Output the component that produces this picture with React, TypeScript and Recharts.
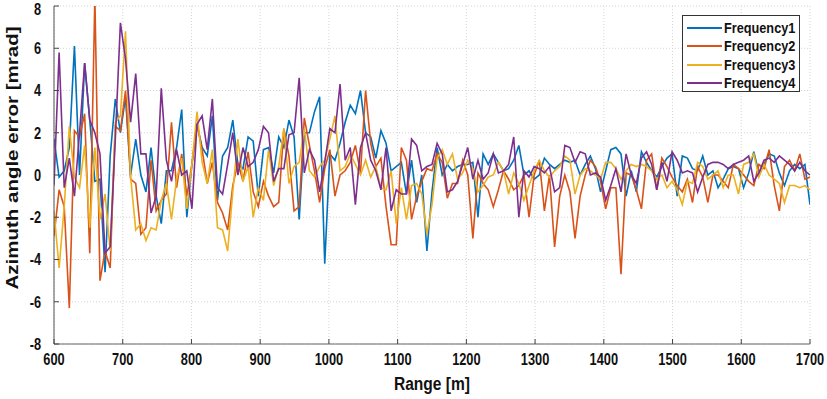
import { LineChart, Line, XAxis, YAxis, CartesianGrid, Legend } from "recharts";

// range axis (m)
const RANGE_START = 600;
const RANGE_END = 1700;

const xTicks = [600, 700, 800, 900, 1000, 1100, 1200, 1300, 1400, 1500, 1600, 1700];
const yTicks = [-8, -6, -4, -2, 0, 2, 4, 6, 8];

// azimuth angle error [mrad]
const freq1 = [
  1.7, -0.1, 0.2, 1.3, 6.1, 0.0, 5.3, 2.6, -0.3, -0.2, -4.6, 0.9, 3.6, 2.0, 3.7, 0.0, 1.7, 0.0, -0.8, 1.3, -1.0, -2.3, 0.2, 0.2, 1.3,
  3.1, -2.0, 0.5, 2.4, 1.3, 0.9, 2.8, -1.2, 0.9, 1.3, 2.6, 0.5, 0.3, 1.8, 1.6, -1.0, 1.2, 1.3, 0.1, 1.8, 1.3, 2.6, 1.8, -2.1, 2.0,
  2.0, 3.0, 3.7, -4.2, 1.0, 0.7, 1.5, 2.5, 3.3, 2.9, 4.0, 2.0, 1.8, 0.8, 2.1, 1.5, 0.2, 0.4, 0.6, -0.9, 0.7, -1.3, 0.0, -3.6,
  -0.8, 1.3, 0.0, 0.5, 0.2, 0.4, 0.5, 0.5, 0.6, -2.0, 1.0, 0.5, 1.0, 0.6, 0.2, 0.3, 0.7, 1.4, 0.0, 0.2, -0.2, 0.0, 0.8, 0.5, 0.3,
  0.5, 0.7, 0.6, 0.7, 0.0, 0.5, 0.9, 0.3, -0.8, 0.2, 1.2, 1.3, 1.0, -1.0, 0.2, -0.8, 1.1, 0.6, 0.2, -0.1, 0.4, 0.8, 1.0, -1.0,
  0.9, 0.8, 0.3, 0.2, 0.9, 0.0, 0.2, -0.6, -0.2, 0.3, 0.4, 0.3, -0.6, 0.1, 1.1, 0.1, 0.5, 1.0, 0.9, 0.1, -0.5, 0.2, 0.5, 0.3, 0.5, -1.4,
];

const freq2 = [
  -2.9, -0.7, -1.5, -6.3, 2.1, 1.8, 2.9, -3.7, 8.4, -5.0, -3.6, -4.4, 2.3, 2.1, 4.0, -0.2, -0.4, -2.8, -2.5, 0.7, -1.7, -1.2, -0.9, 2.5, -0.6,
  1.0, -1.0, 0.5, 2.4, 1.2, -0.4, 0.6, -1.3, -1.8, -2.6, -0.5, 0.6, -0.3, 1.1, -0.8, -1.5, -0.3, -1.0, -1.5, -1.3, 2.2, 0.9, -1.7, -1.5, 2.7,
  1.4, 0.2, -1.3, 0.3, 1.2, -1.0, 0.0, 0.2, 0.6, 1.4, 0.1, 4.0, 1.5, 0.4, 0.8, -1.5, -3.3, -3.3, 1.3, 0.7, -2.1, -1.0, -0.3, 0.3,
  0.2, 1.0, 0.6, -1.1, -0.4, -0.4, 0.7, 0.0, -3.0, 0.1, -0.4, -0.7, -1.5, -0.7, 0.2, -0.2, -0.7, -0.5, 0.0, -2.0, 0.0, 0.7, -1.7, 0.0, -3.4,
  -1.0, 0.0, -0.8, -3.0, -1.0, 0.0, 0.7, 0.4, -0.3, -1.6, -0.6, -0.6, -4.7, 0.1, 0.0, -0.7, -1.6, 0.7, 1.0, -0.7, 0.8, 0.4, -0.1, -0.5,
  -0.8, -0.2, -1.3, 0.4, -0.1, -1.3, 0.0, 0.0, -0.3, -0.6, 0.5, 0.3, 0.0, -0.3, -0.5, 0.5, 0.3, 1.2, -0.5, -1.7, 0.4, 0.7, 0.2, 1.0, -0.2, -0.1,
];

const freq3 = [
  -1.7, -4.4, -1.5, 2.3, -0.1, -0.6, 1.4, -2.5, 1.3, -2.1, -0.9, -3.6, 2.5, 2.8, 6.8, -0.1, -2.6, -2.3, -3.1, -2.5, -2.6, -1.2, -0.4, -2.1, -0.2,
  0.8, -1.6, 0.5, 3.0, 0.6, -0.4, 1.2, -2.5, -2.6, -3.6, -0.8, 1.7, -0.3, 0.4, -2.0, -0.6, -1.2, 1.2, -0.5, 0.4, 2.2, -0.4, 0.4, 0.6, 2.2,
  0.2, -0.1, 0.4, 0.7, 1.7, 2.8, 0.2, 0.4, 1.0, 0.5, 0.0, 0.7, -0.1, 0.4, -0.6, -0.7, 0.2, -2.3, -0.6, -2.1, -0.5, -0.4, -0.9, -2.8,
  -1.4, 0.8, 1.2, 0.5, 1.0, -0.2, 0.1, 0.7, 0.3, -0.8, -0.5, -0.1, 0.0, 0.6, 0.2, -0.9, 0.1, -0.4, -1.2, -0.5, 0.2, 0.7, 0.2, -0.1, 0.2,
  0.4, 0.9, 0.7, -0.9, 0.0, 0.3, 0.2, 0.0, -0.2, 0.6, 0.6, 0.3, -0.2, 0.2, 0.5, 0.4, 0.5, 0.4, 0.2, -0.2, 0.0, -0.6, -0.3, -0.7,
  -1.4, -0.3, -0.4, 0.6, 0.4, -0.2, 0.0, 0.2, -0.6, 0.0, 0.0, -0.9, 0.5, 0.6, 1.0, -0.1, 0.5, 0.0, -0.2, -0.4, -1.3, -0.5, -0.5, -0.6, -0.5, -0.7,
];

const freq4 = [
  -0.5, 5.8, -0.6, 0.8, -1.0, 2.0, 5.3, 2.6, 2.0, 1.0, -3.7, -3.4, 1.7, 7.2, 5.5, 2.5, 4.8, 1.0, 1.0, -1.8, -1.0, 4.1, 0.7, -0.3, 1.2,
  0.0, 0.2, -1.6, 2.4, 2.8, 1.2, 3.6, -0.6, -0.9, 0.5, 2.0, 0.0, 1.3, 0.4, 0.6, 1.2, 2.3, 2.0, -0.3, 0.3, 0.3, 1.9, 2.0, 4.6, 0.1,
  1.2, 0.7, -0.8, 0.6, 2.2, 2.0, 4.3, 0.7, 1.3, -1.4, 1.3, 2.0, 0.7, 0.2, -0.7, 1.3, -1.7, -0.7, -0.9, -0.9, 1.7, 1.4, 0.2, 0.4,
  0.5, 1.5, 1.0, -0.8, -0.7, -0.3, 0.5, 1.3, -0.2, 0.7, -0.2, 0.1, 1.0, 0.1, 0.2, 0.5, 1.8, -2.0, 0.2, -0.1, 0.4, 0.3, 0.1, 0.4, -0.8,
  -0.6, 1.4, 1.3, 0.6, 1.1, 1.0, 0.0, 0.1, -0.1, -1.2, -0.5, 0.3, -0.8, 1.0, 0.0, -0.4, 0.8, 1.1, 0.5, -0.7, 0.6, -0.3, 1.1, 0.7,
  0.1, 0.2, 0.1, -0.8, -0.1, 0.5, 0.6, 0.6, 0.5, 0.3, 0.5, 0.6, 0.7, 0.9, -0.3, 0.1, 0.7, 0.8, 0.6, 0.9, 0.7, 0.5, 0.2, 0.6, 0.2, 0.0,
];

const SERIES = [
  { key: "f1", name: "Frequency1", color: "#0072BD" },
  { key: "f2", name: "Frequency2", color: "#D95319" },
  { key: "f3", name: "Frequency3", color: "#EDB120" },
  { key: "f4", name: "Frequency4", color: "#7E2F8E" },
];

const step = (RANGE_END - RANGE_START) / (freq1.length - 1);
const data = freq1.map((v, i) => ({
  range: RANGE_START + i * step,
  f1: v,
  f2: freq2[i],
  f3: freq3[i],
  f4: freq4[i],
}));

// the figure's text is a horizontally squeezed bold Arial
const FONT = "'Liberation Sans', Arial, sans-serif";
const SQUEEZE = 0.8;

const XTick = ({ x, y, payload }: any) => (
  <text
    transform={`translate(${x},${y}) scale(${SQUEEZE},1)`}
    textAnchor="middle"
    dy="0.72em"
    fontFamily={FONT}
    fontWeight="bold"
    fontSize={16}
    fill="#111"
  >
    {payload.value}
  </text>
);

const YTick = ({ x, y, payload }: any) => (
  <text
    transform={`translate(${x},${y}) scale(${SQUEEZE},1)`}
    textAnchor="end"
    dy="0.36em"
    fontFamily={FONT}
    fontWeight="bold"
    fontSize={16}
    fill="#111"
  >
    {payload.value}
  </text>
);

const XTitle = () => (
  <text
    transform={`translate(432,390) scale(0.82,1)`}
    textAnchor="middle"
    fontFamily={FONT}
    fontWeight="bold"
    fontSize={19}
    fill="#111"
  >
    Range [m]
  </text>
);

const YTitle = () => (
  <text
    transform="translate(12,158) scale(0.82,1) rotate(-90)"
    textAnchor="middle"
    dominantBaseline="central"
    fontFamily={FONT}
    fontWeight="bold"
    fontSize={20.5}
    fill="#111"
  >
    Azimuth angle error [mrad]
  </text>
);

function LegendBox() {
  return (
    <div
      style={{
        width: 118,
        height: 77,
        border: "1px solid #333",
        background: "#fff",
        boxSizing: "border-box",
        paddingTop: 3,
      }}
    >
      {SERIES.map((s) => (
        <div key={s.key} style={{ display: "flex", alignItems: "center", height: 18.3 }}>
          <div style={{ flexShrink: 0, width: 35, height: 2, background: s.color, marginLeft: 4, marginRight: 2 }} />
          <span
            style={{
              display: "inline-block",
              whiteSpace: "nowrap",
              fontFamily: FONT,
              fontWeight: "bold",
              fontSize: 15.5,
              color: "#111",
              transform: "scaleX(0.82)",
              transformOrigin: "left center",
            }}
          >
            {s.name}
          </span>
        </div>
      ))}
    </div>
  );
}

export default function App() {
  return (
    <div style={{ position: "absolute", left: 0, top: 0, background: "#fff" }}>
      <LineChart width={827} height={399} data={data} margin={{ top: 6, right: 17, bottom: 0, left: 0 }}>
        <CartesianGrid xAxisId="bottom" yAxisId="left" stroke="#d4d4d4" strokeDasharray="1 2" />
        <XAxis
          xAxisId="bottom"
          dataKey="range"
          type="number"
          domain={[RANGE_START, RANGE_END]}
          ticks={xTicks}
          height={55}
          tickSize={-5}
          tickMargin={14}
          tick={<XTick />}
          axisLine={{ stroke: "#666" }}
          tickLine={{ stroke: "#444" }}
          allowDataOverflow
          label={{ content: XTitle }}
        />
        <XAxis
          xAxisId="top"
          orientation="top"
          dataKey="range"
          type="number"
          domain={[RANGE_START, RANGE_END]}
          ticks={xTicks}
          height={0}
          tickSize={-5}
          tick={false}
          axisLine={{ stroke: "#888", strokeWidth: 2 }}
          tickLine={{ stroke: "#555" }}
        />
        <YAxis
          yAxisId="left"
          type="number"
          domain={[-8, 8]}
          ticks={yTicks}
          width={54}
          tickSize={-5}
          tickMargin={18}
          tick={<YTick />}
          axisLine={{ stroke: "#555" }}
          tickLine={{ stroke: "#444" }}
          allowDataOverflow
          label={{ content: YTitle }}
        />
        <YAxis
          yAxisId="right"
          orientation="right"
          type="number"
          domain={[-8, 8]}
          ticks={yTicks}
          width={0}
          tickSize={-5}
          tick={false}
          axisLine={{ stroke: "#888", strokeWidth: 2 }}
          tickLine={{ stroke: "#555" }}
        />
        <Legend
          layout="vertical"
          align="center"
          verticalAlign="middle"
          wrapperStyle={{ left: 682, top: 15, width: 118 }}
          content={() => <LegendBox />}
        />
        {SERIES.map((s) => (
          <Line
            key={s.key}
            xAxisId="bottom"
            yAxisId="left"
            dataKey={s.key}
            name={s.name}
            stroke={s.color}
            strokeWidth={1.6}
            dot={false}
            isAnimationActive={false}
          />
        ))}
      </LineChart>
    </div>
  );
}
